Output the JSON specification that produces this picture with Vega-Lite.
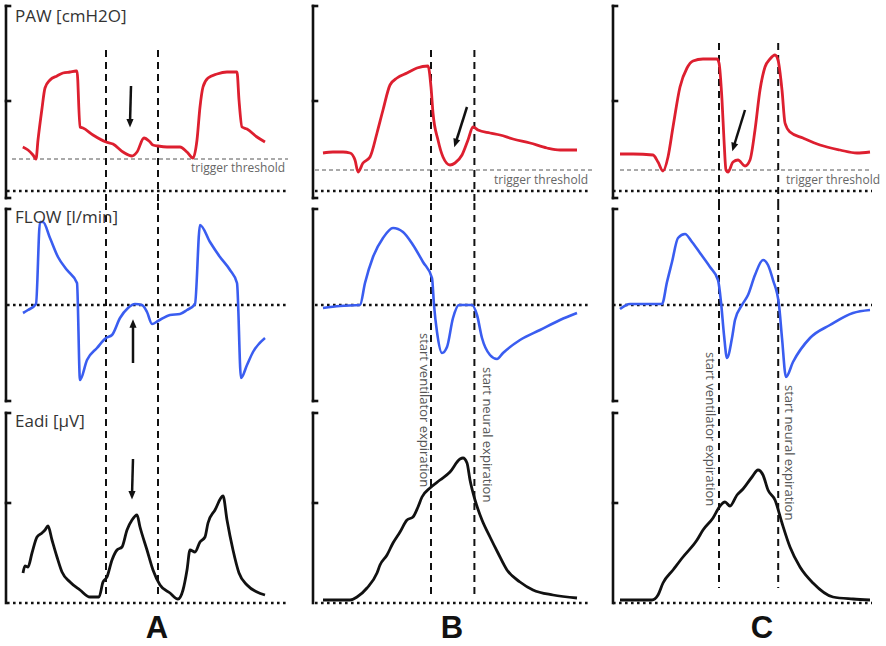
{
  "$schema": "https://vega.github.io/schema/vega-lite/v6.json",
  "padding": 0,
  "spacing": 0,
  "columns": 3,
  "align": "each",
  "bounds": "flush",
  "config": {"view": {"stroke": null}, "axis": {"disable": true}, "font": "Open Sans"},
  "datasets": {
    "A_PAW": [{"t":8.4,"v":4.4},{"t":11,"v":4.1},{"t":13.5,"v":3.6},{"t":15,"v":3.2},{"t":16,"v":5.1},{"t":17.9,"v":8.1},{"t":19.5,"v":10.3},{"t":22,"v":11.1},{"t":25.5,"v":11.5},{"t":28.5,"v":11.8},{"t":32,"v":11.9},{"t":35,"v":12.0},{"t":35.5,"v":12.0},{"t":37,"v":6.4},{"t":38.5,"v":6.3},{"t":43.5,"v":5.6},{"t":50,"v":4.9},{"t":53.5,"v":4.7},{"t":58.5,"v":3.9},{"t":63,"v":3.5},{"t":65.5,"v":3.9},{"t":69,"v":5.3},{"t":72,"v":4.9},{"t":73.5,"v":4.6},{"t":76,"v":4.5},{"t":80.5,"v":4.4},{"t":87,"v":4.4},{"t":90.5,"v":3.9},{"t":93.5,"v":3.3},{"t":95.5,"v":5.1},{"t":97,"v":8.4},{"t":98.5,"v":10.4},{"t":101,"v":11.3},{"t":105.5,"v":11.7},{"t":110.5,"v":11.9},{"t":115.5,"v":11.9},{"t":116.5,"v":9.1},{"t":118,"v":6.4},{"t":120.5,"v":6.2},{"t":125.5,"v":5.4},{"t":129.5,"v":4.9}],
    "B_PAW": [{"t":5,"v":3.8},{"t":10,"v":3.9},{"t":15,"v":3.9},{"t":18.5,"v":3.8},{"t":21,"v":3.1},{"t":22.5,"v":1.9},{"t":25,"v":2.8},{"t":28.5,"v":3.4},{"t":32,"v":5.8},{"t":35,"v":8.1},{"t":38.5,"v":10.6},{"t":42,"v":11.3},{"t":47,"v":11.8},{"t":52,"v":12.3},{"t":57.5,"v":12.5},{"t":59,"v":10.4},{"t":60,"v":7.8},{"t":62.5,"v":5.1},{"t":65,"v":3.4},{"t":68.5,"v":2.6},{"t":71,"v":2.8},{"t":74.5,"v":3.6},{"t":77.5,"v":5.1},{"t":80,"v":6.4},{"t":82.5,"v":6.1},{"t":88.5,"v":5.8},{"t":93.5,"v":5.6},{"t":100,"v":5.2},{"t":108.5,"v":4.8},{"t":117,"v":4.3},{"t":123.5,"v":4.1},{"t":132,"v":4.1}],
    "C_PAW": [{"t":3.5,"v":3.7},{"t":10,"v":3.7},{"t":20,"v":3.6},{"t":22.5,"v":2.9},{"t":25,"v":2.0},{"t":27.5,"v":3.4},{"t":30,"v":6.4},{"t":33.5,"v":10.4},{"t":37,"v":12.3},{"t":40,"v":13.0},{"t":45,"v":13.2},{"t":52,"v":13.2},{"t":53,"v":12.8},{"t":54.5,"v":9.1},{"t":55.5,"v":5.1},{"t":56.5,"v":2.1},{"t":57.5,"v":1.9},{"t":60,"v":2.9},{"t":62.5,"v":3.1},{"t":66,"v":2.5},{"t":68.5,"v":3.1},{"t":71,"v":6.1},{"t":73.5,"v":10.1},{"t":76,"v":12.4},{"t":78.5,"v":13.2},{"t":81,"v":13.6},{"t":82.5,"v":13.1},{"t":84.5,"v":10.1},{"t":86,"v":6.8},{"t":88.5,"v":5.9},{"t":95,"v":5.3},{"t":103.5,"v":4.6},{"t":113.5,"v":4.1},{"t":122,"v":3.8},{"t":128.5,"v":3.9}],
    "A_FLOW": [{"t":8.5,"v":-4},{"t":11,"v":-2.5},{"t":15,"v":0.5},{"t":17,"v":41.5},{"t":18.5,"v":41.5},{"t":22,"v":33.5},{"t":26,"v":24},{"t":30.5,"v":17.5},{"t":35.5,"v":11},{"t":37,"v":-37.5},{"t":40.5,"v":-27.5},{"t":45.5,"v":-21.5},{"t":50,"v":-16.5},{"t":53,"v":-15},{"t":57,"v":-6.5},{"t":61,"v":-1.5},{"t":64.5,"v":0.5},{"t":68,"v":0},{"t":70.5,"v":-3.5},{"t":73,"v":-9.5},{"t":76,"v":-8},{"t":82,"v":-5},{"t":87,"v":-4.5},{"t":90.5,"v":-2.5},{"t":94.5,"v":0.5},{"t":97,"v":40},{"t":102,"v":31.5},{"t":107,"v":24},{"t":112,"v":17.5},{"t":115.5,"v":11},{"t":117.5,"v":-36.5},{"t":120.5,"v":-30},{"t":123.5,"v":-23.5},{"t":129.5,"v":-16.5}],
    "B_FLOW": [{"t":5,"v":-1.5},{"t":13.5,"v":-0.5},{"t":23.5,"v":0},{"t":26,"v":11},{"t":30,"v":24},{"t":35,"v":33.5},{"t":40,"v":38.5},{"t":45,"v":36.5},{"t":50,"v":30},{"t":55,"v":21.5},{"t":59.5,"v":13.5},{"t":60.5,"v":0},{"t":62,"v":-13.5},{"t":64.5,"v":-24},{"t":67,"v":-21},{"t":70,"v":-6.5},{"t":73,"v":0},{"t":79.5,"v":0},{"t":82,"v":-5},{"t":84.5,"v":-16.5},{"t":88.5,"v":-25},{"t":92,"v":-27},{"t":95,"v":-24},{"t":103.5,"v":-17.5},{"t":113.5,"v":-12.5},{"t":123.5,"v":-7.5},{"t":132,"v":-4}],
    "C_FLOW": [{"t":3.5,"v":-2},{"t":8.5,"v":0.5},{"t":24.5,"v":0.5},{"t":27,"v":11.5},{"t":29.5,"v":21.5},{"t":32.5,"v":33.5},{"t":36,"v":35.5},{"t":39.5,"v":31.5},{"t":43.5,"v":26},{"t":48.5,"v":19},{"t":52.5,"v":12.5},{"t":54,"v":1.5},{"t":55.5,"v":-15},{"t":57,"v":-26.5},{"t":59.5,"v":-16.5},{"t":61,"v":-7.5},{"t":64.5,"v":0},{"t":67.5,"v":5},{"t":71,"v":15},{"t":75,"v":22.5},{"t":77.5,"v":20},{"t":80,"v":12.5},{"t":83,"v":0},{"t":84.5,"v":-16.5},{"t":86.5,"v":-36},{"t":90,"v":-28.5},{"t":98.5,"v":-16.5},{"t":108.5,"v":-10},{"t":120,"v":-4},{"t":128.5,"v":-2.5}],
    "A_Eadi": [{"t":8.5,"v":3.0},{"t":9.5,"v":3.7},{"t":11,"v":3.6},{"t":13,"v":5.0},{"t":15.5,"v":6.6},{"t":18,"v":7.0},{"t":19.5,"v":7.3},{"t":21,"v":7.7},{"t":23,"v":6.3},{"t":25.5,"v":4.6},{"t":28,"v":3.1},{"t":32,"v":2.1},{"t":37,"v":1.3},{"t":42,"v":0.6},{"t":46.5,"v":0.6},{"t":48.5,"v":2.1},{"t":50.5,"v":2.6},{"t":53,"v":4.3},{"t":55.5,"v":5.3},{"t":58,"v":5.6},{"t":60.5,"v":7.3},{"t":63,"v":8.3},{"t":65.5,"v":8.8},{"t":67,"v":7.6},{"t":70.5,"v":5.3},{"t":73.5,"v":3.3},{"t":77,"v":1.8},{"t":82,"v":1.0},{"t":86,"v":0.4},{"t":88.5,"v":1.3},{"t":90.5,"v":3.3},{"t":92,"v":5.3},{"t":94.5,"v":5.1},{"t":97,"v":6.1},{"t":99.5,"v":6.6},{"t":101,"v":8.0},{"t":104.5,"v":9.3},{"t":108.5,"v":10.7},{"t":110.5,"v":8.3},{"t":113.5,"v":5.3},{"t":116.5,"v":3.0},{"t":120.5,"v":1.8},{"t":125.5,"v":1.1},{"t":129.5,"v":0.8}],
    "B_Eadi": [{"t":5,"v":0.3},{"t":18.5,"v":0.3},{"t":22,"v":0.6},{"t":27,"v":1.5},{"t":32,"v":3.0},{"t":33.5,"v":3.8},{"t":37,"v":4.8},{"t":40,"v":6.0},{"t":43.5,"v":7.1},{"t":47,"v":8.3},{"t":50,"v":8.6},{"t":52.5,"v":9.6},{"t":54.5,"v":10.6},{"t":58.5,"v":11.5},{"t":63.5,"v":12.3},{"t":68.5,"v":13.1},{"t":73.5,"v":14.4},{"t":75,"v":14.5},{"t":77,"v":14.0},{"t":78.5,"v":12.3},{"t":81,"v":10.3},{"t":84.5,"v":8.3},{"t":88.5,"v":6.6},{"t":92.5,"v":5.0},{"t":97,"v":3.3},{"t":103.5,"v":2.1},{"t":110,"v":1.3},{"t":120,"v":0.8},{"t":132,"v":0.5}],
    "C_Eadi": [{"t":3.5,"v":0.3},{"t":19.5,"v":0.3},{"t":22.5,"v":0.8},{"t":25,"v":2.0},{"t":30,"v":3.3},{"t":35,"v":4.6},{"t":42,"v":6.3},{"t":45,"v":7.3},{"t":50,"v":8.5},{"t":53.5,"v":9.7},{"t":56,"v":10.1},{"t":58.5,"v":9.7},{"t":62,"v":10.8},{"t":65,"v":11.4},{"t":69.5,"v":12.6},{"t":72.5,"v":13.3},{"t":75,"v":12.8},{"t":77.5,"v":11.3},{"t":81,"v":10.3},{"t":84.5,"v":8.0},{"t":88.5,"v":5.6},{"t":93.5,"v":3.6},{"t":100,"v":2.0},{"t":110,"v":0.6},{"t":120,"v":0.4},{"t":128.5,"v":0.3}],
    "frame": [
      {"row":"PAW","t":0,"t2":0,"v":18.5,"v2":-0.7},
      {"row":"PAW","t":0,"t2":2,"v":18.5,"v2":18.5},
      {"row":"PAW","t":0,"t2":2,"v":9,"v2":9},
      {"row":"PAW","t":0,"t2":2,"v":-0.7,"v2":-0.7},
      {"row":"FLOW","t":0,"t2":0,"v":48,"v2":-48},
      {"row":"FLOW","t":0,"t2":2,"v":48,"v2":48},
      {"row":"FLOW","t":0,"t2":2,"v":-48,"v2":-48},
      {"row":"Eadi","t":0,"t2":0,"v":19,"v2":0},
      {"row":"Eadi","t":0,"t2":2,"v":19,"v2":19},
      {"row":"Eadi","t":0,"t2":2,"v":10,"v2":10}
    ],
    "baselines": [{"col":"A","t":0.5,"t2":141,"v":0},{"col":"B","t":1,"t2":137.5,"v":0},{"col":"C","t":0,"t2":129.5,"v":0}],
    "thresholds": [{"col":"A","t":3,"t2":141,"v":3.2},{"col":"B","t":1,"t2":140,"v":2.1},{"col":"C","t":3.5,"t2":129.5,"v":2.1}],
    "cursors": [
      {"p":"A-PAW","t":50,"v":14.1,"v2":-1.2},{"p":"A-PAW","t":76,"v":14.1,"v2":-1.2},
      {"p":"A-FLOW","t":50,"v":51,"v2":-51},{"p":"A-FLOW","t":76,"v":51,"v2":-51},
      {"p":"A-Eadi","t":50,"v":19.6,"v2":0.6},{"p":"A-Eadi","t":76,"v":19.6,"v2":0.6},
      {"p":"B-PAW","t":59,"v":14.1,"v2":-1.2},{"p":"B-PAW","t":80.7,"v":14.1,"v2":-1.2},
      {"p":"B-FLOW","t":59,"v":51,"v2":-51},{"p":"B-FLOW","t":80.7,"v":51,"v2":-51},
      {"p":"B-Eadi","t":59,"v":19.6,"v2":0.8},{"p":"B-Eadi","t":80.7,"v":19.6,"v2":0.8},
      {"p":"C-PAW","t":53,"v":14.8,"v2":-1.2},{"p":"C-PAW","t":82.6,"v":14.8,"v2":-1.2},
      {"p":"C-FLOW","t":53,"v":51,"v2":-51},{"p":"C-FLOW","t":82.6,"v":51,"v2":-51},
      {"p":"C-Eadi","t":53,"v":19.6,"v2":1.5},{"p":"C-Eadi","t":82.6,"v":19.6,"v2":1.5}
    ],
    "arrows": [
      {"p":"A-PAW","t":62.5,"v":10.5,"t2":62,"v2":6.8,"dir":0},
      {"p":"B-PAW","t":77,"v":8.4,"t2":71.3,"v2":4.8,"dir":17.6},
      {"p":"C-PAW","t":66,"v":8.1,"t2":60.3,"v2":4.4,"dir":17},
      {"p":"A-FLOW","t":63.5,"v":-29,"t2":63.5,"v2":-9.3,"dir":180},
      {"p":"A-Eadi","t":63.5,"v":14.4,"t2":63,"v2":10.8,"dir":0}
    ],
    "labels": [
      {"p":"A-PAW","kind":"title","t":4.5,"v":17.4,"text":"PAW [cmH2O]"},
      {"p":"A-PAW","kind":"note","t":139.5,"v":2.3,"text":"trigger threshold"},
      {"p":"B-PAW","kind":"note","t":137.5,"v":1.1,"text":"trigger threshold"},
      {"p":"C-PAW","kind":"note","t":133.5,"v":1.1,"text":"trigger threshold"},
      {"p":"A-FLOW","kind":"title","t":4.5,"v":43.5,"text":"FLOW [l/min]"},
      {"p":"B-FLOW","kind":"vnote","t":55.5,"v":-14,"text":"start ventilator expiration"},
      {"p":"B-FLOW","kind":"vnote","t":87,"v":-31,"text":"start neural expiration"},
      {"p":"C-FLOW","kind":"vnote","t":48.5,"v":-23.5,"text":"start ventilator expiration"},
      {"p":"C-FLOW","kind":"vnote","t":88,"v":-40,"text":"start neural expiration"},
      {"p":"A-Eadi","kind":"title","t":4.5,"v":18.1,"text":"Eadi [µV]"},
      {"p":"A-Eadi","kind":"letter","t":75.5,"v":-2.55,"text":"A"},
      {"p":"B-Eadi","kind":"letter","t":69.5,"v":-2.55,"text":"B"},
      {"p":"C-Eadi","kind":"letter","t":74.5,"v":-2.55,"text":"C"}
    ]
  },
  "concat": [
    {
      "width": 300, "height": 203,
      "encoding": {
        "x": {"field": "t", "type": "quantitative", "axis": null, "scale": {"domain": [-3, 147], "nice": false, "zero": false}},
        "y": {"field": "v", "type": "quantitative", "axis": null, "scale": {"domain": [-1.2, 19.1], "nice": false, "zero": false}}
      },
      "layer": [
        {"data": {"name": "frame"}, "transform": [{"filter": "datum.row === 'PAW'"}], "mark": {"type": "rule", "color": "#111", "strokeWidth": 2.6, "strokeCap": "square"}, "encoding": {"x2": {"field": "t2"}, "y2": {"field": "v2"}}},
        {"data": {"name": "baselines"}, "transform": [{"filter": "datum.col === 'A'"}], "mark": {"type": "rule", "color": "#111", "strokeWidth": 2.6, "strokeDash": [2.6, 3.4]}, "encoding": {"x2": {"field": "t2"}}},
        {"data": {"name": "thresholds"}, "transform": [{"filter": "datum.col === 'A'"}], "mark": {"type": "rule", "color": "#555", "strokeWidth": 1, "strokeDash": [4, 3]}, "encoding": {"x2": {"field": "t2"}}},
        {"data": {"name": "cursors"}, "transform": [{"filter": "datum.p === 'A-PAW'"}], "mark": {"type": "rule", "color": "#111", "strokeWidth": 2, "strokeDash": [7, 5]}, "encoding": {"y2": {"field": "v2"}}},
        {"data": {"name": "A_PAW"}, "mark": {"type": "line", "color": "#dd1f2f", "strokeWidth": 2.8, "strokeJoin": "round", "interpolate": "monotone"}},
        {"data": {"name": "arrows"}, "transform": [{"filter": "datum.p === 'A-PAW'"}], "mark": {"type": "rule", "color": "#111", "strokeWidth": 2.5}, "encoding": {"x2": {"field": "t2"}, "y2": {"field": "v2"}}},
        {"data": {"name": "arrows"}, "transform": [{"filter": "datum.p === 'A-PAW'"}], "mark": {"type": "point", "shape": "M0,1L-0.8,-0.9L0.8,-0.9Z", "size": 80, "filled": true, "color": "#111", "opacity": 1}, "encoding": {"x": {"field": "t2", "type": "quantitative", "axis": null}, "y": {"field": "v2", "type": "quantitative", "axis": null}, "angle": {"field": "dir", "type": "quantitative", "scale": null}}},
        {"data": {"name": "labels"}, "transform": [{"filter": "datum.p === 'A-PAW' && datum.kind === 'title'"}], "mark": {"type": "text", "align": "left", "baseline": "middle", "fontSize": 17, "color": "#333"}, "encoding": {"text": {"field": "text"}}},
        {"data": {"name": "labels"}, "transform": [{"filter": "datum.p === 'A-PAW' && datum.kind === 'note'"}], "mark": {"type": "text", "align": "right", "baseline": "middle", "fontSize": 12, "color": "#666"}, "encoding": {"text": {"field": "text"}}}
      ]
    },
    {
      "width": 300, "height": 203,
      "encoding": {
        "x": {"field": "t", "type": "quantitative", "axis": null, "scale": {"domain": [-6.5, 143.5], "nice": false, "zero": false}},
        "y": {"field": "v", "type": "quantitative", "axis": null, "scale": {"domain": [-1.2, 19.1], "nice": false, "zero": false}}
      },
      "layer": [
        {"data": {"name": "frame"}, "transform": [{"filter": "datum.row === 'PAW'"}], "mark": {"type": "rule", "color": "#111", "strokeWidth": 2.6, "strokeCap": "square"}, "encoding": {"x2": {"field": "t2"}, "y2": {"field": "v2"}}},
        {"data": {"name": "baselines"}, "transform": [{"filter": "datum.col === 'B'"}], "mark": {"type": "rule", "color": "#111", "strokeWidth": 2.6, "strokeDash": [2.6, 3.4]}, "encoding": {"x2": {"field": "t2"}}},
        {"data": {"name": "thresholds"}, "transform": [{"filter": "datum.col === 'B'"}], "mark": {"type": "rule", "color": "#555", "strokeWidth": 1, "strokeDash": [4, 3]}, "encoding": {"x2": {"field": "t2"}}},
        {"data": {"name": "cursors"}, "transform": [{"filter": "datum.p === 'B-PAW'"}], "mark": {"type": "rule", "color": "#111", "strokeWidth": 2, "strokeDash": [7, 5]}, "encoding": {"y2": {"field": "v2"}}},
        {"data": {"name": "B_PAW"}, "mark": {"type": "line", "color": "#dd1f2f", "strokeWidth": 2.8, "strokeJoin": "round", "interpolate": "monotone"}},
        {"data": {"name": "arrows"}, "transform": [{"filter": "datum.p === 'B-PAW'"}], "mark": {"type": "rule", "color": "#111", "strokeWidth": 2.5}, "encoding": {"x2": {"field": "t2"}, "y2": {"field": "v2"}}},
        {"data": {"name": "arrows"}, "transform": [{"filter": "datum.p === 'B-PAW'"}], "mark": {"type": "point", "shape": "M0,1L-0.8,-0.9L0.8,-0.9Z", "size": 80, "filled": true, "color": "#111", "opacity": 1}, "encoding": {"x": {"field": "t2", "type": "quantitative", "axis": null}, "y": {"field": "v2", "type": "quantitative", "axis": null}, "angle": {"field": "dir", "type": "quantitative", "scale": null}}},
        {"data": {"name": "labels"}, "transform": [{"filter": "datum.p === 'B-PAW' && datum.kind === 'note'"}], "mark": {"type": "text", "align": "right", "baseline": "middle", "fontSize": 12, "color": "#666"}, "encoding": {"text": {"field": "text"}}}
      ]
    },
    {
      "width": 286, "height": 203,
      "encoding": {
        "x": {"field": "t", "type": "quantitative", "axis": null, "scale": {"domain": [-6.5, 136.5], "nice": false, "zero": false}},
        "y": {"field": "v", "type": "quantitative", "axis": null, "scale": {"domain": [-1.2, 19.1], "nice": false, "zero": false}}
      },
      "layer": [
        {"data": {"name": "frame"}, "transform": [{"filter": "datum.row === 'PAW'"}], "mark": {"type": "rule", "color": "#111", "strokeWidth": 2.6, "strokeCap": "square"}, "encoding": {"x2": {"field": "t2"}, "y2": {"field": "v2"}}},
        {"data": {"name": "baselines"}, "transform": [{"filter": "datum.col === 'C'"}], "mark": {"type": "rule", "color": "#111", "strokeWidth": 2.6, "strokeDash": [2.6, 3.4]}, "encoding": {"x2": {"field": "t2"}}},
        {"data": {"name": "thresholds"}, "transform": [{"filter": "datum.col === 'C'"}], "mark": {"type": "rule", "color": "#555", "strokeWidth": 1, "strokeDash": [4, 3]}, "encoding": {"x2": {"field": "t2"}}},
        {"data": {"name": "cursors"}, "transform": [{"filter": "datum.p === 'C-PAW'"}], "mark": {"type": "rule", "color": "#111", "strokeWidth": 2, "strokeDash": [7, 5]}, "encoding": {"y2": {"field": "v2"}}},
        {"data": {"name": "C_PAW"}, "mark": {"type": "line", "color": "#dd1f2f", "strokeWidth": 2.8, "strokeJoin": "round", "interpolate": "monotone"}},
        {"data": {"name": "arrows"}, "transform": [{"filter": "datum.p === 'C-PAW'"}], "mark": {"type": "rule", "color": "#111", "strokeWidth": 2.5}, "encoding": {"x2": {"field": "t2"}, "y2": {"field": "v2"}}},
        {"data": {"name": "arrows"}, "transform": [{"filter": "datum.p === 'C-PAW'"}], "mark": {"type": "point", "shape": "M0,1L-0.8,-0.9L0.8,-0.9Z", "size": 80, "filled": true, "color": "#111", "opacity": 1}, "encoding": {"x": {"field": "t2", "type": "quantitative", "axis": null}, "y": {"field": "v2", "type": "quantitative", "axis": null}, "angle": {"field": "dir", "type": "quantitative", "scale": null}}},
        {"data": {"name": "labels"}, "transform": [{"filter": "datum.p === 'C-PAW' && datum.kind === 'note'"}], "mark": {"type": "text", "align": "right", "baseline": "middle", "fontSize": 12, "color": "#666"}, "encoding": {"text": {"field": "text"}}}
      ]
    },
    {
      "width": 300, "height": 204,
      "encoding": {
        "x": {"field": "t", "type": "quantitative", "axis": null, "scale": {"domain": [-3, 147], "nice": false, "zero": false}},
        "y": {"field": "v", "type": "quantitative", "axis": null, "scale": {"domain": [-51, 51], "nice": false, "zero": false}}
      },
      "layer": [
        {"data": {"name": "frame"}, "transform": [{"filter": "datum.row === 'FLOW'"}], "mark": {"type": "rule", "color": "#111", "strokeWidth": 2.6, "strokeCap": "square"}, "encoding": {"x2": {"field": "t2"}, "y2": {"field": "v2"}}},
        {"data": {"name": "baselines"}, "transform": [{"filter": "datum.col === 'A'"}], "mark": {"type": "rule", "color": "#111", "strokeWidth": 2.6, "strokeDash": [2.6, 3.4]}, "encoding": {"x2": {"field": "t2"}}},
        {"data": {"name": "cursors"}, "transform": [{"filter": "datum.p === 'A-FLOW'"}], "mark": {"type": "rule", "color": "#111", "strokeWidth": 2, "strokeDash": [7, 5]}, "encoding": {"y2": {"field": "v2"}}},
        {"data": {"name": "A_FLOW"}, "mark": {"type": "line", "color": "#3a5df0", "strokeWidth": 2.6, "strokeJoin": "round", "interpolate": "monotone"}},
        {"data": {"name": "arrows"}, "transform": [{"filter": "datum.p === 'A-FLOW'"}], "mark": {"type": "rule", "color": "#111", "strokeWidth": 2.5}, "encoding": {"x2": {"field": "t2"}, "y2": {"field": "v2"}}},
        {"data": {"name": "arrows"}, "transform": [{"filter": "datum.p === 'A-FLOW'"}], "mark": {"type": "point", "shape": "M0,1L-0.8,-0.9L0.8,-0.9Z", "size": 80, "filled": true, "color": "#111", "opacity": 1}, "encoding": {"x": {"field": "t2", "type": "quantitative", "axis": null}, "y": {"field": "v2", "type": "quantitative", "axis": null}, "angle": {"field": "dir", "type": "quantitative", "scale": null}}},
        {"data": {"name": "labels"}, "transform": [{"filter": "datum.p === 'A-FLOW' && datum.kind === 'title'"}], "mark": {"type": "text", "align": "left", "baseline": "middle", "fontSize": 17, "color": "#333"}, "encoding": {"text": {"field": "text"}}}
      ]
    },
    {
      "width": 300, "height": 204,
      "encoding": {
        "x": {"field": "t", "type": "quantitative", "axis": null, "scale": {"domain": [-6.5, 143.5], "nice": false, "zero": false}},
        "y": {"field": "v", "type": "quantitative", "axis": null, "scale": {"domain": [-51, 51], "nice": false, "zero": false}}
      },
      "layer": [
        {"data": {"name": "frame"}, "transform": [{"filter": "datum.row === 'FLOW'"}], "mark": {"type": "rule", "color": "#111", "strokeWidth": 2.6, "strokeCap": "square"}, "encoding": {"x2": {"field": "t2"}, "y2": {"field": "v2"}}},
        {"data": {"name": "baselines"}, "transform": [{"filter": "datum.col === 'B'"}], "mark": {"type": "rule", "color": "#111", "strokeWidth": 2.6, "strokeDash": [2.6, 3.4]}, "encoding": {"x2": {"field": "t2"}}},
        {"data": {"name": "cursors"}, "transform": [{"filter": "datum.p === 'B-FLOW'"}], "mark": {"type": "rule", "color": "#111", "strokeWidth": 2, "strokeDash": [7, 5]}, "encoding": {"y2": {"field": "v2"}}},
        {"data": {"name": "B_FLOW"}, "mark": {"type": "line", "color": "#3a5df0", "strokeWidth": 2.6, "strokeJoin": "round", "interpolate": "monotone"}},
        {"data": {"name": "labels"}, "transform": [{"filter": "datum.p === 'B-FLOW' && datum.kind === 'vnote'"}], "mark": {"type": "text", "align": "left", "baseline": "middle", "angle": 90, "fontSize": 13, "color": "#555"}, "encoding": {"text": {"field": "text"}}}
      ]
    },
    {
      "width": 286, "height": 204,
      "encoding": {
        "x": {"field": "t", "type": "quantitative", "axis": null, "scale": {"domain": [-6.5, 136.5], "nice": false, "zero": false}},
        "y": {"field": "v", "type": "quantitative", "axis": null, "scale": {"domain": [-51, 51], "nice": false, "zero": false}}
      },
      "layer": [
        {"data": {"name": "frame"}, "transform": [{"filter": "datum.row === 'FLOW'"}], "mark": {"type": "rule", "color": "#111", "strokeWidth": 2.6, "strokeCap": "square"}, "encoding": {"x2": {"field": "t2"}, "y2": {"field": "v2"}}},
        {"data": {"name": "baselines"}, "transform": [{"filter": "datum.col === 'C'"}], "mark": {"type": "rule", "color": "#111", "strokeWidth": 2.6, "strokeDash": [2.6, 3.4]}, "encoding": {"x2": {"field": "t2"}}},
        {"data": {"name": "cursors"}, "transform": [{"filter": "datum.p === 'C-FLOW'"}], "mark": {"type": "rule", "color": "#111", "strokeWidth": 2, "strokeDash": [7, 5]}, "encoding": {"y2": {"field": "v2"}}},
        {"data": {"name": "C_FLOW"}, "mark": {"type": "line", "color": "#3a5df0", "strokeWidth": 2.6, "strokeJoin": "round", "interpolate": "monotone"}},
        {"data": {"name": "labels"}, "transform": [{"filter": "datum.p === 'C-FLOW' && datum.kind === 'vnote'"}], "mark": {"type": "text", "align": "left", "baseline": "middle", "angle": 90, "fontSize": 13, "color": "#555"}, "encoding": {"text": {"field": "text"}}}
      ]
    },
    {
      "width": 300, "height": 239,
      "encoding": {
        "x": {"field": "t", "type": "quantitative", "axis": null, "scale": {"domain": [-3, 147], "nice": false, "zero": false}},
        "y": {"field": "v", "type": "quantitative", "axis": null, "scale": {"domain": [-4.3, 19.6], "nice": false, "zero": false}}
      },
      "layer": [
        {"data": {"name": "frame"}, "transform": [{"filter": "datum.row === 'Eadi'"}], "mark": {"type": "rule", "color": "#111", "strokeWidth": 2.6, "strokeCap": "square"}, "encoding": {"x2": {"field": "t2"}, "y2": {"field": "v2"}}},
        {"data": {"name": "baselines"}, "transform": [{"filter": "datum.col === 'A'"}], "mark": {"type": "rule", "color": "#111", "strokeWidth": 2.6, "strokeDash": [2.6, 3.4]}, "encoding": {"x2": {"field": "t2"}}},
        {"data": {"name": "cursors"}, "transform": [{"filter": "datum.p === 'A-Eadi'"}], "mark": {"type": "rule", "color": "#111", "strokeWidth": 2, "strokeDash": [7, 5]}, "encoding": {"y2": {"field": "v2"}}},
        {"data": {"name": "A_Eadi"}, "mark": {"type": "line", "color": "#111", "strokeWidth": 2.8, "strokeJoin": "round", "interpolate": "monotone"}},
        {"data": {"name": "arrows"}, "transform": [{"filter": "datum.p === 'A-Eadi'"}], "mark": {"type": "rule", "color": "#111", "strokeWidth": 2.5}, "encoding": {"x2": {"field": "t2"}, "y2": {"field": "v2"}}},
        {"data": {"name": "arrows"}, "transform": [{"filter": "datum.p === 'A-Eadi'"}], "mark": {"type": "point", "shape": "M0,1L-0.8,-0.9L0.8,-0.9Z", "size": 80, "filled": true, "color": "#111", "opacity": 1}, "encoding": {"x": {"field": "t2", "type": "quantitative", "axis": null}, "y": {"field": "v2", "type": "quantitative", "axis": null}, "angle": {"field": "dir", "type": "quantitative", "scale": null}}},
        {"data": {"name": "labels"}, "transform": [{"filter": "datum.p === 'A-Eadi' && datum.kind === 'title'"}], "mark": {"type": "text", "align": "left", "baseline": "middle", "fontSize": 17, "color": "#333"}, "encoding": {"text": {"field": "text"}}},
        {"data": {"name": "labels"}, "transform": [{"filter": "datum.p === 'A-Eadi' && datum.kind === 'letter'"}], "mark": {"type": "text", "align": "center", "baseline": "middle", "fontSize": 31, "fontWeight": "bold", "font": "Liberation Sans", "color": "#111"}, "encoding": {"text": {"field": "text"}}}
      ]
    },
    {
      "width": 300, "height": 239,
      "encoding": {
        "x": {"field": "t", "type": "quantitative", "axis": null, "scale": {"domain": [-6.5, 143.5], "nice": false, "zero": false}},
        "y": {"field": "v", "type": "quantitative", "axis": null, "scale": {"domain": [-4.3, 19.6], "nice": false, "zero": false}}
      },
      "layer": [
        {"data": {"name": "frame"}, "transform": [{"filter": "datum.row === 'Eadi'"}], "mark": {"type": "rule", "color": "#111", "strokeWidth": 2.6, "strokeCap": "square"}, "encoding": {"x2": {"field": "t2"}, "y2": {"field": "v2"}}},
        {"data": {"name": "baselines"}, "transform": [{"filter": "datum.col === 'B'"}], "mark": {"type": "rule", "color": "#111", "strokeWidth": 2.6, "strokeDash": [2.6, 3.4]}, "encoding": {"x2": {"field": "t2"}}},
        {"data": {"name": "cursors"}, "transform": [{"filter": "datum.p === 'B-Eadi'"}], "mark": {"type": "rule", "color": "#111", "strokeWidth": 2, "strokeDash": [7, 5]}, "encoding": {"y2": {"field": "v2"}}},
        {"data": {"name": "B_Eadi"}, "mark": {"type": "line", "color": "#111", "strokeWidth": 2.8, "strokeJoin": "round", "interpolate": "monotone"}},
        {"data": {"name": "labels"}, "transform": [{"filter": "datum.p === 'B-Eadi' && datum.kind === 'letter'"}], "mark": {"type": "text", "align": "center", "baseline": "middle", "fontSize": 31, "fontWeight": "bold", "font": "Liberation Sans", "color": "#111"}, "encoding": {"text": {"field": "text"}}}
      ]
    },
    {
      "width": 286, "height": 239,
      "encoding": {
        "x": {"field": "t", "type": "quantitative", "axis": null, "scale": {"domain": [-6.5, 136.5], "nice": false, "zero": false}},
        "y": {"field": "v", "type": "quantitative", "axis": null, "scale": {"domain": [-4.3, 19.6], "nice": false, "zero": false}}
      },
      "layer": [
        {"data": {"name": "frame"}, "transform": [{"filter": "datum.row === 'Eadi'"}], "mark": {"type": "rule", "color": "#111", "strokeWidth": 2.6, "strokeCap": "square"}, "encoding": {"x2": {"field": "t2"}, "y2": {"field": "v2"}}},
        {"data": {"name": "baselines"}, "transform": [{"filter": "datum.col === 'C'"}], "mark": {"type": "rule", "color": "#111", "strokeWidth": 2.6, "strokeDash": [2.6, 3.4]}, "encoding": {"x2": {"field": "t2"}}},
        {"data": {"name": "cursors"}, "transform": [{"filter": "datum.p === 'C-Eadi'"}], "mark": {"type": "rule", "color": "#111", "strokeWidth": 2, "strokeDash": [7, 5]}, "encoding": {"y2": {"field": "v2"}}},
        {"data": {"name": "C_Eadi"}, "mark": {"type": "line", "color": "#111", "strokeWidth": 2.8, "strokeJoin": "round", "interpolate": "monotone"}},
        {"data": {"name": "labels"}, "transform": [{"filter": "datum.p === 'C-Eadi' && datum.kind === 'letter'"}], "mark": {"type": "text", "align": "center", "baseline": "middle", "fontSize": 31, "fontWeight": "bold", "font": "Liberation Sans", "color": "#111"}, "encoding": {"text": {"field": "text"}}}
      ]
    }
  ]
}
